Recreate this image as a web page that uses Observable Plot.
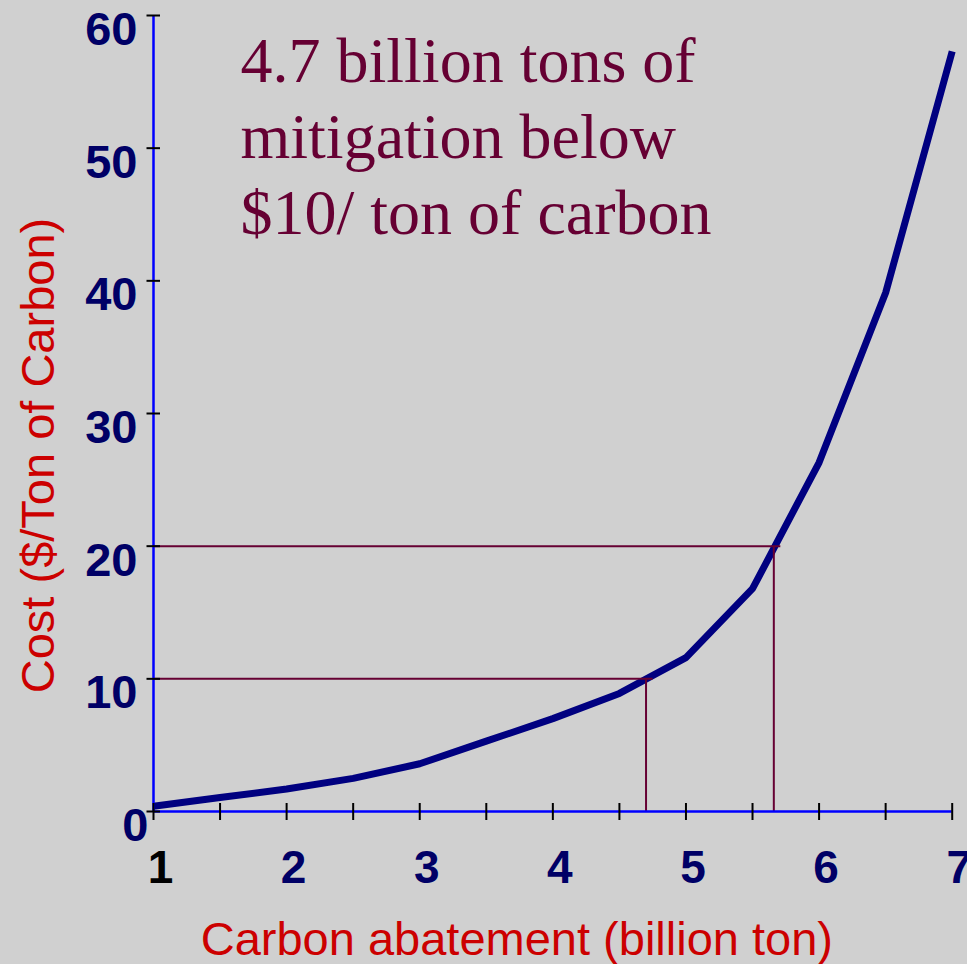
<!DOCTYPE html>
<html><head><meta charset="utf-8">
<script src="https://cdn.jsdelivr.net/npm/d3@7"></script>
<script src="https://cdn.jsdelivr.net/npm/@observablehq/plot@0.6"></script>
<style>
html,body{margin:0;padding:0;background:#d0d0d0;overflow:hidden;}
</style></head><body><div id="chart"></div>
<script>
// Data
const abatement = [1, 1.5, 2, 2.5, 3, 3.5, 4, 4.5, 5, 5.5, 6, 6.5, 7];
const cost = [0.4, 1.05, 1.7, 2.5, 3.6, 5.3, 7.0, 8.9, 11.6, 16.8, 26.3, 39.1, 57.3];
const xTicks = [1, 1.5, 2, 2.5, 3, 3.5, 4, 4.5, 5, 5.5, 6, 6.5, 7];
const xTickLabels = [1, 2, 3, 4, 5, 6, 7];
const yTicks = [0, 10, 20, 30, 40, 50, 60];
const refAbatement = [4.7, 5.66];
const refCost = [10, 20];
const noteLines = ["4.7 billion tons of", "mitigation below", "$10/ ton of carbon"];
const xTitle = "Carbon abatement (billion ton)";
const yTitle = "Cost ($/Ton of Carbon)";

const curve = abatement.map((x, i) => ({x, y: cost[i]}));
const refs = refAbatement.map((x, i) => ({x, y: refCost[i]}));

const sans = "Arial, 'Liberation Sans', Helvetica, sans-serif";
const serif = "'Times New Roman', 'Liberation Serif', serif";

const plot = Plot.plot({
  width: 967,
  height: 964,
  marginLeft: 153,
  marginRight: 15.3,
  marginTop: 15,
  marginBottom: 153,
  x: {domain: [1, 7], axis: null},
  y: {domain: [0, 60], axis: null},
  style: {background: "#d0d0d0", fontFamily: sans, overflow: "visible"},
  marks: [
    Plot.line(curve, {x: "x", y: "y", stroke: "#000080", strokeWidth: 7, strokeLinejoin: "miter", strokeLinecap: "butt"}),
    Plot.ruleY(refs, {y: "y", x1: 1, x2: "x", insetRight: -7, stroke: "#660033", strokeWidth: 2}),
    Plot.ruleX(refs, {x: "x", y1: 0, y2: "y", stroke: "#660033", strokeWidth: 2}),
    Plot.ruleX([1], {y1: 0, y2: 60, stroke: "#0000ff", strokeWidth: 2.5}),
    Plot.ruleY([0], {x1: 1, x2: 7, stroke: "#0000ff", strokeWidth: 2.5}),
    Plot.ruleX(xTicks, {x: d => d, y1: 0, y2: 0, insetTop: -8, insetBottom: -9, stroke: "black", strokeWidth: 2}),
    Plot.ruleY(yTicks, {y: d => d, x1: 1, x2: 1, insetLeft: -6.5, insetRight: -7, stroke: "black", strokeWidth: 2}),
    Plot.text(xTickLabels, {x: d => d, y: 0, text: d => String(d), dx: 7, dy: 57, fontSize: 46, fontWeight: "bold", fill: d => d === 1 ? "black" : "#000066"}),
    Plot.text(yTicks.filter(d => d > 0), {x: 1, y: d => d, text: d => String(d), textAnchor: "end", dx: -16, dy: 14.5, fontSize: 47, fontWeight: "bold", fill: "#000066"}),
    Plot.text(yTicks.filter(d => d === 0), {x: 1, y: d => d, text: d => String(d), textAnchor: "end", dx: -5, dy: 14.5, fontSize: 47, fontWeight: "bold", fill: "#000066"}),
    Plot.text([noteLines.join("\n")], {frameAnchor: "top-left", text: d => d, textAnchor: "start", lineAnchor: "top", lineHeight: 1.19, dx: 87, dy: 12, fontSize: 64, fontFamily: serif, fill: "#660033"}),
    Plot.text([xTitle], {frameAnchor: "bottom", text: d => d, textAnchor: "middle", lineAnchor: "middle", dx: -36, dy: 128, fontSize: 47, fill: "#cc0000"}),
    Plot.text([yTitle], {frameAnchor: "left", text: d => d, textAnchor: "middle", lineAnchor: "middle", rotate: -90, dx: -115, dy: 42, fontSize: 47, fill: "#cc0000"})
  ]
});
document.getElementById("chart").appendChild(plot);
</script>
</body></html>
